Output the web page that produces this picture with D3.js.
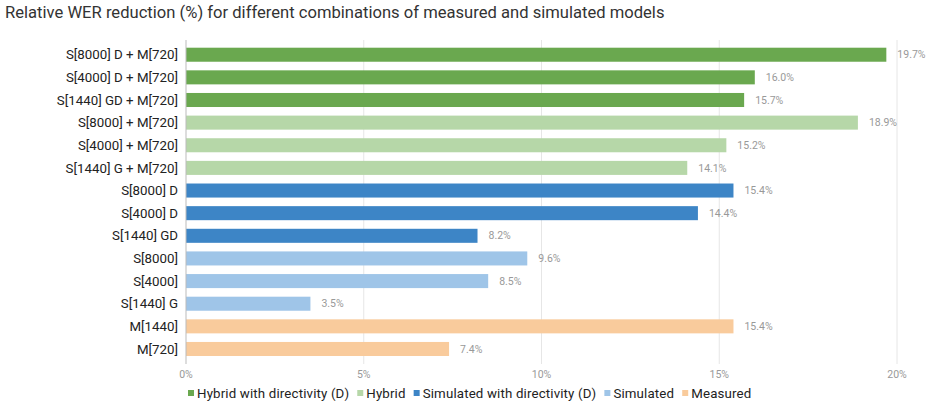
<!DOCTYPE html>
<html>
<head>
<meta charset="utf-8">
<script src="https://cdn.jsdelivr.net/npm/d3@7"></script>
<style>
  body { margin: 0; background: #fff; font-family: Roboto, "Noto Sans", sans-serif; }
</style>
</head>
<body>
<div id="chart"></div>
<script>
var labels = ["S[8000] D + M[720]", "S[4000] D + M[720]", "S[1440] GD + M[720]",
  "S[8000] + M[720]", "S[4000] + M[720]", "S[1440] G + M[720]",
  "S[8000] D", "S[4000] D", "S[1440] GD",
  "S[8000]", "S[4000]", "S[1440] G",
  "M[1440]", "M[720]"];
var values = [19.7, 16.0, 15.7, 18.9, 15.2, 14.1, 15.4, 14.4, 8.2, 9.6, 8.5, 3.5, 15.4, 7.4];
var groups = [0, 0, 0, 1, 1, 1, 2, 2, 2, 3, 3, 3, 4, 4];
var groupNames = ["Hybrid with directivity (D)", "Hybrid", "Simulated with directivity (D)", "Simulated", "Measured"];
var groupColors = ["#6aa84f", "#b6d7a8", "#3d85c6", "#9fc5e8", "#f9cb9c"];
var xTicks = [0, 5, 10, 15, 20];

var width = 931, height = 409;

var svg = d3.select("#chart").append("svg")
  .attr("width", width)
  .attr("height", height);

svg.append("text")
  .attr("x", 5)
  .attr("y", 18)
  .attr("font-size", "16.6px")
  .attr("fill", "#333")
  .text("Relative WER reduction (%) for different combinations of measured and simulated models");

var x = d3.scaleLinear().domain([0, 20]).range([186, 897]);
var y = d3.scaleBand().domain(labels).range([43.4, 360.3]).paddingInner(0.38).paddingOuter(0.19);

/* grid */
svg.append("g")
  .selectAll("line")
  .data(xTicks.slice(1)).enter()
  .append("line")
  .attr("x1", d => x(d)).attr("x2", d => x(d))
  .attr("y1", 40).attr("y2", 364)
  .attr("stroke", "#e6e6e6");

/* bars */
svg.append("g")
  .selectAll("rect")
  .data(labels).enter()
  .append("rect")
  .attr("x", x(0))
  .attr("y", d => y(d))
  .attr("width", (d, i) => x(values[i]) - x(0))
  .attr("height", y.bandwidth())
  .attr("fill", (d, i) => groupColors[groups[i]]);

/* value labels */
svg.append("g")
  .selectAll("text")
  .data(labels).enter()
  .append("text")
  .attr("x", (d, i) => x(values[i]) + 11)
  .attr("y", d => y(d) + y.bandwidth() / 2)
  .attr("dy", "0.35em")
  .attr("font-size", "10.5px")
  .attr("fill", "#999")
  .text((d, i) => values[i].toFixed(1) + "%");

/* y axis */
svg.append("line")
  .attr("x1", x(0)).attr("x2", x(0))
  .attr("y1", 40).attr("y2", 364)
  .attr("stroke", "#bbb");

svg.append("g")
  .selectAll("text")
  .data(labels).enter()
  .append("text")
  .attr("x", x(0) - 8)
  .attr("y", d => y(d) + y.bandwidth() / 2)
  .attr("dy", "0.35em")
  .attr("text-anchor", "end")
  .attr("font-size", "13.3px")
  .attr("fill", "#222")
  .text(d => d);

/* x tick labels */
svg.append("g")
  .selectAll("text")
  .data(xTicks).enter()
  .append("text")
  .attr("x", d => x(d))
  .attr("y", 378)
  .attr("text-anchor", "middle")
  .attr("font-size", "10.5px")
  .attr("fill", "#999")
  .text(d => d + "%");

/* legend */
var legend = svg.append("g").attr("transform", "translate(188, 393)");
var lx = 0;
groupNames.forEach(function(name, i) {
  var item = legend.append("g").attr("transform", `translate(${lx}, 0)`);
  item.append("rect")
    .attr("x", 0).attr("y", -3)
    .attr("width", 6).attr("height", 6)
    .attr("fill", groupColors[i]);
  var t = item.append("text")
    .attr("x", 9)
    .attr("dy", "0.35em")
    .attr("font-size", "13.3px")
    .attr("letter-spacing", "0.15px")
    .attr("fill", "#222")
    .text(name);
  lx += 9 + t.node().getComputedTextLength() + 8;
});
</script>
</body>
</html>
